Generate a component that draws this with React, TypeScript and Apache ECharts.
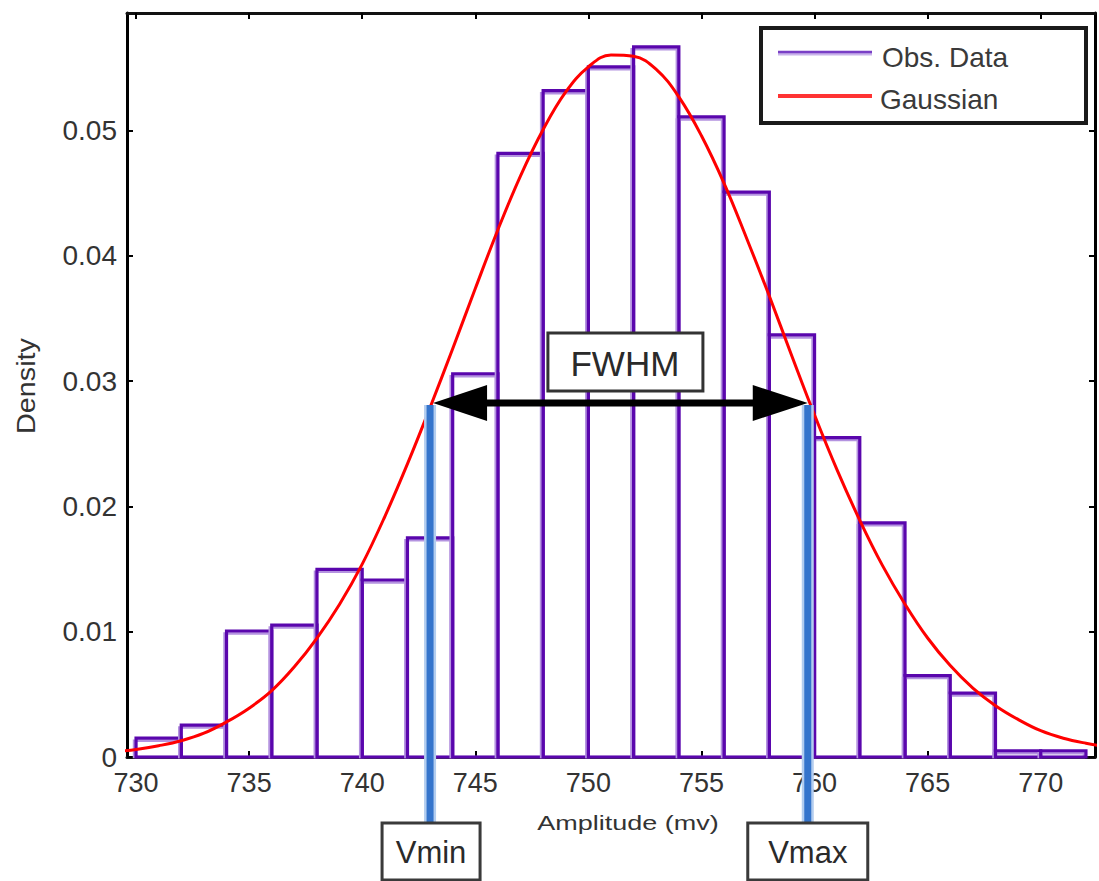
import React, { useEffect, useRef } from 'react';
import * as echarts from 'echarts';

const BIN_STARTS = [730, 732, 734, 736, 738, 740, 742, 744, 746, 748, 750, 752, 754, 756, 758, 760, 762, 764, 766, 768, 770];
const BIN_WIDTH = 2;
const DENSITY = [0.0015, 0.00255, 0.01006, 0.01053, 0.01498, 0.01413, 0.0175, 0.0306, 0.0482, 0.0532, 0.0551, 0.0567, 0.0511, 0.0451, 0.0337, 0.0255, 0.0187, 0.0065, 0.0051, 0.0005, 0.0005];

const GAUSS_X = [729, 730, 731, 732, 733, 734, 735, 736, 737, 738, 739, 740, 741, 742, 743, 744, 745, 746, 747, 748, 749, 750, 751, 752, 753, 754, 755, 756, 757, 758, 759, 760, 761, 762, 763, 764, 765, 766, 767, 768, 769, 770, 771, 772, 773];
const GAUSS_Y = [0.0004, 0.0006, 0.0009, 0.0013, 0.0019, 0.0028, 0.0039, 0.0053, 0.0072, 0.0095, 0.0122, 0.0154, 0.0192, 0.0234, 0.0279, 0.0326, 0.0374, 0.0421, 0.0464, 0.0501, 0.0531, 0.0551, 0.05605, 0.05595, 0.0549, 0.0527, 0.0496, 0.0458, 0.0414, 0.0368, 0.032, 0.0273, 0.0229, 0.0189, 0.0153, 0.0122, 0.0095, 0.0073, 0.0055, 0.0041, 0.003, 0.0021, 0.0015, 0.0011, 0.0008];

const X_TICKS = [730, 735, 740, 745, 750, 755, 760, 765, 770];
const Y_TICKS = [0, 0.01, 0.02, 0.03, 0.04, 0.05];
const X_MIN = 729.6;
const X_MAX = 772.4;
const Y_MIN = 0;
const Y_MAX = 0.0594;

const V_MIN = 743.0;
const V_MAX = 759.7;
const HALF_MAX = 0.0281;

const FONT = '"Liberation Sans", Arial, Helvetica, sans-serif';

export default function App() {
  const ref = useRef<HTMLDivElement>(null);

  useEffect(() => {
    if (!ref.current) return;
    const chart = echarts.init(ref.current, undefined, { renderer: 'svg' });

    const tickStyle = { color: '#000', width: 2 };
    const xAxisBase = {
      type: 'value',
      min: X_MIN,
      max: X_MAX,
      splitLine: { show: false },
      axisLine: { show: true, onZero: false, lineStyle: { color: '#111', width: 3 } },
    };
    const yAxisBase = {
      type: 'value',
      min: Y_MIN,
      max: Y_MAX,
      splitLine: { show: false },
      axisLine: { show: true, onZero: false, lineStyle: { color: '#000', width: 3 } },
    };

    chart.setOption({
      animation: false,
      grid: { left: 127, right: 4, top: 13, bottom: 124, containLabel: false },
      xAxis: [
        {
          ...xAxisBase,
          position: 'bottom',
          axisTick: { show: true, inside: true, length: 6, customValues: X_TICKS, lineStyle: tickStyle },
          axisLabel: {
            show: true,
            customValues: X_TICKS,
            formatter: (v: number) => String(Math.round(v)),
            fontSize: 27,
            fontFamily: FONT,
            color: '#333',
            margin: 12,
          },
        },
        {
          ...xAxisBase,
          position: 'top',
          axisTick: { show: true, inside: true, length: 6, customValues: X_TICKS, lineStyle: tickStyle },
          axisLabel: { show: false },
        },
      ],
      yAxis: [
        {
          ...yAxisBase,
          position: 'left',
          axisTick: { show: true, inside: true, length: 6, customValues: Y_TICKS, lineStyle: tickStyle },
          axisLabel: {
            show: true,
            customValues: Y_TICKS,
            formatter: (v: number) => (v === 0 ? '0' : v.toFixed(2)),
            fontSize: 28,
            fontFamily: FONT,
            color: '#333',
            margin: 10,
          },
        },
        {
          ...yAxisBase,
          position: 'right',
          axisTick: { show: true, inside: true, length: 6, customValues: Y_TICKS, lineStyle: tickStyle },
          axisLabel: { show: false },
        },
      ],
      series: [
        {
          type: 'custom',
          name: 'Obs. Data',
          xAxisIndex: 0,
          yAxisIndex: 0,
          z: 2,
          encode: { x: 0, y: 1 },
          data: BIN_STARTS.map((s, i) => [s, DENSITY[i], BIN_WIDTH]),
          renderItem: (params: any, api: any) => {
            const s = api.value(0);
            const h = api.value(1);
            const w = api.value(2);
            const p0 = api.coord([s, h]);
            const p1 = api.coord([s + w, 0]);
            const x = p0[0];
            const y = p0[1];
            const width = p1[0] - p0[0];
            const height = p1[1] - p0[1];
            return {
              type: 'group',
              children: [
                {
                  type: 'rect',
                  shape: { x: x - 2, y: y + 2.5, width, height: Math.max(height - 2.5, 0) },
                  style: { fill: 'none', stroke: '#b493e0', lineWidth: 2.5 },
                },
                {
                  type: 'rect',
                  shape: { x, y, width, height },
                  style: { fill: 'none', stroke: '#5a06ad', lineWidth: 3.2 },
                },
              ],
            };
          },
        },
        {
          type: 'line',
          name: 'Gaussian',
          xAxisIndex: 0,
          yAxisIndex: 0,
          z: 3,
          data: GAUSS_X.map((x, i) => [x, GAUSS_Y[i]]),
          smooth: 0.4,
          showSymbol: false,
          symbol: 'none',
          clip: true,
          lineStyle: { color: '#ff0000', width: 3 },
        },
      ],
    });

    const [xL, yH] = chart.convertToPixel({ gridIndex: 0 }, [V_MIN, HALF_MAX]) as number[];
    const [xR] = chart.convertToPixel({ gridIndex: 0 }, [V_MAX, HALF_MAX]) as number[];
    const lineBottom = 822;
    const mid = (xL + xR) / 2 + 6;

    const blueLine = (x: number) => [
      {
        type: 'line',
        z: 50,
        shape: { x1: x, y1: yH, x2: x, y2: lineBottom },
        style: { stroke: '#b3cdef', lineWidth: 12 },
      },
      {
        type: 'line',
        z: 51,
        shape: { x1: x, y1: yH, x2: x, y2: lineBottom },
        style: { stroke: '#3474cc', lineWidth: 7 },
      },
    ];

    const labelBox = (cx: number, w: number, text: string) => [
      {
        type: 'rect',
        z: 52,
        shape: { x: cx - w / 2, y: 823, width: w, height: 57 },
        style: { fill: '#fff', stroke: '#3a3a3a', lineWidth: 3 },
      },
      {
        type: 'text',
        z: 53,
        style: {
          x: cx,
          y: 852,
          text,
          fontSize: 31,
          fontFamily: FONT,
          fill: '#2a2a2a',
          align: 'center',
          verticalAlign: 'middle',
        },
      },
    ];

    chart.setOption({
      graphic: [
        ...blueLine(xL),
        ...blueLine(xR),
        ...labelBox(xL + 1, 98, 'Vmin'),
        ...labelBox(xR, 120, 'Vmax'),
        {
          type: 'line',
          z: 60,
          shape: { x1: xL + 30, y1: yH - 2, x2: xR - 30, y2: yH - 2 },
          style: { stroke: '#000', lineWidth: 7 },
        },
        {
          type: 'polygon',
          z: 61,
          shape: { points: [[xL + 3, yH - 2], [xL + 57, yH - 20], [xL + 57, yH + 16]] },
          style: { fill: '#000' },
        },
        {
          type: 'polygon',
          z: 61,
          shape: { points: [[xR, yH - 2], [xR - 55, yH - 20], [xR - 55, yH + 16]] },
          style: { fill: '#000' },
        },
        {
          type: 'rect',
          z: 62,
          shape: { x: mid - 77, y: 333, width: 155, height: 58 },
          style: { fill: '#fff', stroke: '#333', lineWidth: 3 },
        },
        {
          type: 'text',
          z: 63,
          style: {
            x: mid,
            y: 363,
            text: 'FWHM',
            fontSize: 35,
            fontFamily: FONT,
            fill: '#2a2a2a',
            align: 'center',
            verticalAlign: 'middle',
          },
        },
        {
          type: 'rect',
          z: 70,
          shape: { x: 761, y: 28, width: 325, height: 95 },
          style: { fill: '#fff', stroke: '#1a1a1a', lineWidth: 4 },
        },
        {
          type: 'line',
          z: 71,
          shape: { x1: 778, y1: 54, x2: 872, y2: 54 },
          style: { stroke: '#c9b3ea', lineWidth: 3 },
        },
        {
          type: 'line',
          z: 72,
          shape: { x1: 778, y1: 52, x2: 872, y2: 52 },
          style: { stroke: '#7a3fc6', lineWidth: 2.5 },
        },
        {
          type: 'line',
          z: 71,
          shape: { x1: 778, y1: 96, x2: 872, y2: 96 },
          style: { stroke: '#ff3333', lineWidth: 4 },
        },
        {
          type: 'text',
          z: 72,
          style: { x: 882, y: 57, text: 'Obs. Data', fontSize: 28, fontFamily: FONT, fill: '#3a3a3a', verticalAlign: 'middle' },
        },
        {
          type: 'text',
          z: 72,
          style: { x: 880, y: 99, text: 'Gaussian', fontSize: 28, fontFamily: FONT, fill: '#3a3a3a', verticalAlign: 'middle' },
        },
        {
          type: 'text',
          z: 40,
          x: 628,
          y: 823,
          scaleX: 1.35,
          style: {
            x: 0,
            y: 0,
            text: 'Amplitude (mv)',
            fontSize: 20,
            fontFamily: FONT,
            fill: '#333',
            align: 'center',
            verticalAlign: 'middle',
          },
        },
        {
          type: 'text',
          z: 40,
          x: 27,
          y: 386,
          rotation: Math.PI / 2,
          scaleX: 1.15,
          style: {
            x: 0,
            y: 0,
            text: 'Density',
            fontSize: 25,
            fontFamily: FONT,
            fill: '#333',
            align: 'center',
            verticalAlign: 'middle',
          },
        },
      ],
    });

    return () => chart.dispose();
  }, []);

  return (
    <div
      ref={ref}
      style={{ position: 'fixed', left: 0, top: 0, width: 1099, height: 881, background: '#fff' }}
    />
  );
}
